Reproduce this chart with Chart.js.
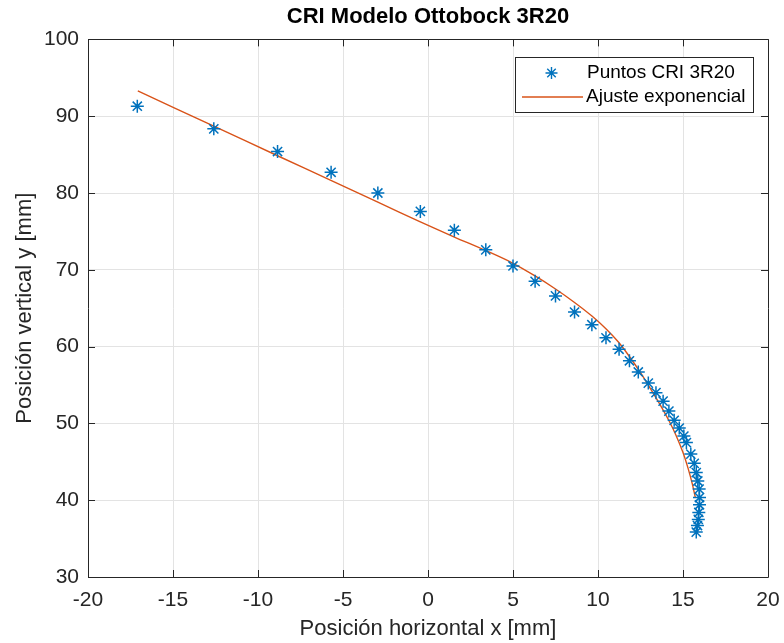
<!DOCTYPE html>
<html><head><meta charset="utf-8">
<script src="https://cdn.jsdelivr.net/npm/chart.js@4.4.0/dist/chart.umd.min.js"></script>
<style>html,body{margin:0;padding:0;background:#fff}#wrap{width:784px;height:643px}</style>
</head><body><div id="wrap"><canvas id="c" width="784" height="643"></canvas></div>
<script>
const chartTitle = 'CRI Modelo Ottobock 3R20';
const xAxisTitle = 'Posición horizontal x [mm]';
const yAxisTitle = 'Posición vertical y [mm]';
const pointsLabel = 'Puntos CRI 3R20';
const fitLabel = 'Ajuste exponencial';

const xTicks = [-20, -15, -10, -5, 0, 5, 10, 15, 20];
const yTicks = [30, 40, 50, 60, 70, 80, 90, 100];

const pointsX = [-17.1, -12.6, -8.85, -5.7, -2.95, -0.45, 1.55, 3.4, 5.0, 6.3, 7.5, 8.62, 9.64, 10.47, 11.24, 11.85, 12.37, 12.96, 13.41, 13.83, 14.17, 14.48, 14.78, 15.05, 15.2, 15.46, 15.66, 15.78, 15.87, 15.95, 15.97, 15.97, 15.93, 15.9, 15.85, 15.78];
const pointsY = [91.3, 88.35, 85.4, 82.7, 80.0, 77.6, 75.15, 72.6, 70.5, 68.5, 66.6, 64.5, 62.85, 61.15, 59.65, 58.15, 56.7, 55.25, 54.0, 52.9, 51.6, 50.4, 49.4, 48.35, 47.5, 46.0, 44.8, 43.6, 42.5, 41.45, 40.35, 39.4, 38.4, 37.5, 36.7, 35.85];

const fitX = [-17.07, -12.6, -8.85, -5.68, -2.95, -0.45, 1.52, 3.4, 5.0, 6.3, 7.5, 8.62, 9.66, 10.48, 11.2, 11.9, 12.5, 13.2, 13.7, 14.2, 14.6, 15.0, 15.3, 15.55, 15.72];
const fitY = [93.3, 88.7, 84.85, 81.6, 78.8, 76.25, 74.3, 72.5, 70.85, 69.2, 67.5, 65.75, 63.95, 62.3, 60.6, 58.55, 56.6, 54.1, 52.25, 50.25, 48.4, 46.2, 44.15, 42.1, 40.4];

const BLUE = '#0072BD';
const ORANGE = '#D95319';
const AXIS = '#262626';
const FONT = '"Liberation Sans", Arial, Helvetica, sans-serif';

const framePlugin = {
  id: 'frame',
  afterDatasetsDraw(chart) {
    const {ctx, chartArea: a, scales} = chart;
    ctx.save();
    ctx.strokeStyle = AXIS;
    ctx.lineWidth = 1;
    ctx.beginPath();
    ctx.rect(Math.round(a.left) + 0.5, Math.round(a.top) + 0.5, Math.round(a.right - a.left), Math.round(a.bottom - a.top));
    ctx.stroke();
    const tl = 7;
    ctx.beginPath();
    xTicks.forEach(v => {
      const px = Math.round(scales.x.getPixelForValue(v)) + 0.5;
      ctx.moveTo(px, a.bottom); ctx.lineTo(px, a.bottom - tl);
      ctx.moveTo(px, a.top); ctx.lineTo(px, a.top + tl);
    });
    yTicks.forEach(v => {
      const py = Math.round(scales.y.getPixelForValue(v)) + 0.5;
      ctx.moveTo(a.left, py); ctx.lineTo(a.left + tl, py);
      ctx.moveTo(a.right, py); ctx.lineTo(a.right - tl, py);
    });
    ctx.stroke();
    ctx.restore();
  }
};

const legendPlugin = {
  id: 'boxLegend',
  afterDraw(chart) {
    const {ctx} = chart;
    const ds = chart.data.datasets;
    const bx = 515.5, by = 57.5, bw = 238, bh = 55;
    ctx.save();
    ctx.fillStyle = '#fff';
    ctx.fillRect(bx, by, bw, bh);
    ctx.strokeStyle = AXIS;
    ctx.lineWidth = 1;
    ctx.strokeRect(bx, by, bw, bh);
    const r1 = by + 15.5, r2 = by + 39.5;
    const mx = 551.5, r = 6;
    ctx.strokeStyle = BLUE;
    ctx.lineWidth = 1.4;
    ctx.beginPath();
    ctx.moveTo(mx - r, r1); ctx.lineTo(mx + r, r1);
    ctx.moveTo(mx, r1 - r); ctx.lineTo(mx, r1 + r);
    const d = r * Math.SQRT1_2;
    ctx.moveTo(mx - d, r1 - d); ctx.lineTo(mx + d, r1 + d);
    ctx.moveTo(mx - d, r1 + d); ctx.lineTo(mx + d, r1 - d);
    ctx.stroke();
    ctx.strokeStyle = ORANGE;
    ctx.lineWidth = 1.3;
    ctx.beginPath();
    ctx.moveTo(522, r2); ctx.lineTo(583, r2);
    ctx.stroke();
    ctx.fillStyle = '#000';
    ctx.font = '19px ' + FONT;
    ctx.textBaseline = 'middle';
    ctx.textAlign = 'left';
    ctx.fillText(ds[0].label, 587, r1);
    ctx.fillText(ds[1].label, 586, r2);
    ctx.restore();
  }
};

const pointData = pointsX.map((x, i) => ({x, y: pointsY[i]}));
const fitData = fitX.map((x, i) => ({x, y: fitY[i]}));

new Chart(document.getElementById('c'), {
  type: 'scatter',
  data: {
    datasets: [
      {
        label: pointsLabel,
        data: pointData,
        pointStyle: 'star',
        pointRadius: 6.5,
        pointBorderWidth: 1.5,
        borderColor: BLUE,
        backgroundColor: BLUE,
        showLine: false,
        order: 0
      },
      {
        label: fitLabel,
        data: fitData,
        showLine: true,
        borderColor: ORANGE,
        borderWidth: 1.4,
        pointRadius: 0,
        tension: 0.35,
        fill: false,
        order: 1
      }
    ]
  },
  options: {
    responsive: false,
    animation: false,
    devicePixelRatio: 1,
    layout: {padding: {left: 0, right: 16, top: 0, bottom: 0}},
    plugins: {
      legend: {display: false},
      tooltip: {enabled: false},
      title: {
        display: true,
        text: chartTitle,
        fullSize: false,
        color: '#000',
        font: {family: FONT, size: 22, weight: 'bold'},
        padding: {top: 4, bottom: 9}
      }
    },
    scales: {
      x: {
        type: 'linear',
        min: -20, max: 20,
        afterBuildTicks: s => { s.ticks = xTicks.map(v => ({value: v})); },
        afterFit: s => { s.height = 66; s.paddingLeft = 0; s.paddingRight = 0; },
        grid: {color: '#e3e3e3', drawTicks: false, lineWidth: 1},
        border: {display: false},
        ticks: {color: AXIS, padding: 11, font: {family: FONT, size: 21}, maxRotation: 0},
        title: {display: true, text: xAxisTitle, color: AXIS, font: {family: FONT, size: 22}, padding: {top: 1, bottom: 1}}
      },
      y: {
        type: 'linear',
        min: 30, max: 100,
        afterBuildTicks: s => { s.ticks = yTicks.map(v => ({value: v})); },
        afterFit: s => { s.width = 88; s.paddingTop = 0; s.paddingBottom = 0; },
        grid: {color: '#e3e3e3', drawTicks: false, lineWidth: 1},
        border: {display: false},
        ticks: {color: AXIS, padding: 9, font: {family: FONT, size: 21}},
        title: {display: true, text: yAxisTitle, color: AXIS, font: {family: FONT, size: 22}, padding: {top: 12, bottom: 12}}
      }
    }
  },
  plugins: [framePlugin, legendPlugin]
});
</script>
</body></html>
